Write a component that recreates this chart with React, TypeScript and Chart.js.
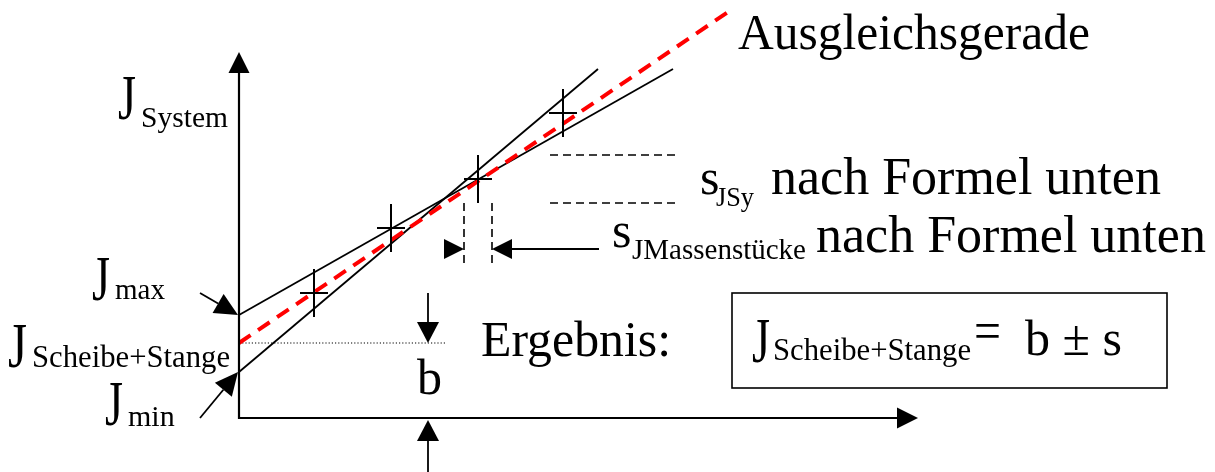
import { useEffect, useRef } from "react";
import { Chart, registerables } from "chart.js";

Chart.register(...registerables);

// Measured points: mass (x) against moment of inertia of the system (y), arbitrary units
const MASS = [7.5, 15.2, 23.9, 32.4];
const J_SYSTEM = [12.5, 19.0, 23.9, 30.5];
const MASS_ERR = [1.4, 1.4, 1.4, 1.4];
const J_ERR = [2.4, 2.4, 2.4, 2.4];

// Straight lines: best fit, flattest (J_max) and steepest (J_min)
const FIT_X = [0, 48.9];
const FIT_Y = [7.5, 40.6];
const MAX_X = [0, 43.4];
const MAX_Y = [10.3, 34.9];
const MIN_X = [0, 35.9];
const MIN_Y = [4.6, 34.9];

// Intercept b of the best-fit line
const B_VALUE = 7.5;
const B_LINE_END = 20.6;

// Axis extent (arrow tips)
const X_AXIS_END = 67.9;
const Y_AXIS_END = 36.6;

// Index of the point used to illustrate the uncertainties
const DETAIL_POINT = 2;

const FONT = '"Liberation Serif", "Times New Roman", serif';

type Label = { t: string; x: number; y: number; size: number; w?: number };

const LABELS: Label[] = [
  { t: "J", x: -12.1, y: 29.9, size: 64, w: 18 },
  { t: "System", x: -9.8, y: 29.1, size: 30, w: 87 },
  { t: "J", x: -14.7, y: 11.8, size: 64, w: 18 },
  { t: "max", x: -12.4, y: 11.9, size: 30, w: 50 },
  { t: "J", x: -23.1, y: 5.1, size: 64, w: 19 },
  { t: "Scheibe+Stange", x: -20.7, y: 5.1, size: 31, w: 198 },
  { t: "J", x: -13.4, y: -0.7, size: 64, w: 18 },
  { t: "min", x: -11.1, y: -0.8, size: 30, w: 47 },
  { t: "b", x: 17.8, y: 2.4, size: 50 },
  { t: "Ergebnis:", x: 24.2, y: 6.2, size: 50, w: 190 },
  { t: "J", x: 51.3, y: 5.6, size: 64, w: 18 },
  { t: "Scheibe+Stange", x: 53.4, y: 5.8, size: 31, w: 198 },
  { t: "=", x: 73.5, y: 6.9, size: 54, w: 27 },
  { t: "b ± s", x: 78.6, y: 6.3, size: 50, w: 97 },
  { t: "s", x: 46.1, y: 22.4, size: 50 },
  { t: "JSy", x: 47.7, y: 21.2, size: 28, w: 38 },
  { t: "nach Formel unten", x: 53.2, y: 22.4, size: 52, w: 392 },
  { t: "s", x: 37.3, y: 17.1, size: 50 },
  { t: "JMassenstücke", x: 39.3, y: 15.9, size: 29, w: 174 },
  { t: "nach Formel unten", x: 57.7, y: 16.6, size: 52, w: 392 },
  { t: "Ausgleichsgerade", x: 49.9, y: 36.9, size: 50, w: 352 },
];

// Result box corners
const BOX = { x0: 49.3, y0: 12.5, x1: 92.8, y1: 3.0 };

function arrow(
  ctx: CanvasRenderingContext2D,
  x0: number,
  y0: number,
  x1: number,
  y1: number,
  head = 20,
  half = 10
) {
  const dx = x1 - x0;
  const dy = y1 - y0;
  const len = Math.hypot(dx, dy);
  const ux = dx / len;
  const uy = dy / len;
  const bx = x1 - ux * head;
  const by = y1 - uy * head;
  if (len > head + 0.5) {
    ctx.beginPath();
    ctx.moveTo(x0, y0);
    ctx.lineTo(bx, by);
    ctx.stroke();
  }
  ctx.beginPath();
  ctx.moveTo(x1, y1);
  ctx.lineTo(bx - uy * half, by + ux * half);
  ctx.lineTo(bx + uy * half, by - ux * half);
  ctx.closePath();
  ctx.fill();
}

const diagramPlugin = {
  id: "diagram",
  afterDatasetsDraw(chart: Chart) {
    const ctx = chart.ctx;
    const sx = chart.scales.x;
    const sy = chart.scales.y;
    const X = (v: number) => sx.getPixelForValue(v);
    const Y = (v: number) => sy.getPixelForValue(v);

    ctx.save();
    ctx.strokeStyle = "#000";
    ctx.fillStyle = "#000";
    ctx.lineCap = "butt";

    // axes with arrow heads
    ctx.lineWidth = 2.2;
    arrow(ctx, X(0), Y(0) + 1, X(0), Y(Y_AXIS_END), 21, 10.5);
    arrow(ctx, X(0) - 1, Y(0), X(X_AXIS_END), Y(0), 21, 10.5);

    // error crosses
    ctx.lineWidth = 2;
    MASS.forEach((m, i) => {
      const j = J_SYSTEM[i];
      ctx.beginPath();
      ctx.moveTo(X(m), Y(j - J_ERR[i]));
      ctx.lineTo(X(m), Y(j + J_ERR[i]));
      ctx.moveTo(X(m - MASS_ERR[i]), Y(j));
      ctx.lineTo(X(m + MASS_ERR[i]), Y(j));
      ctx.stroke();
    });

    // uncertainty guides of the detail point
    const dm = MASS[DETAIL_POINT];
    const dj = J_SYSTEM[DETAIL_POINT];
    const de = MASS_ERR[DETAIL_POINT];
    const dje = J_ERR[DETAIL_POINT];
    ctx.setLineDash([8, 5]);
    ctx.lineWidth = 1.6;
    ctx.beginPath();
    ctx.moveTo(X(31.1), Y(dj + dje));
    ctx.lineTo(X(43.6), Y(dj + dje));
    ctx.moveTo(X(31.1), Y(dj - dje));
    ctx.lineTo(X(43.6), Y(dj - dje));
    ctx.moveTo(X(dm - de), Y(dj - dje));
    ctx.lineTo(X(dm - de), Y(15.5));
    ctx.moveTo(X(dm + de), Y(dj - dje));
    ctx.lineTo(X(dm + de), Y(15.5));
    ctx.stroke();
    ctx.setLineDash([]);

    // pointer arrows
    ctx.lineWidth = 1.8;
    arrow(ctx, X(dm - de - 2.0), Y(16.9), X(dm - de), Y(16.9), 20, 10);
    arrow(ctx, X(36.0), Y(16.9), X(dm + de), Y(16.9), 20, 10);
    arrow(ctx, X(-3.9), Y(12.5), X(-0.1), Y(MAX_Y[0]), 23, 11);
    arrow(ctx, X(-3.9), Y(0.0), X(-0.1), Y(MIN_Y[0]), 23, 11);
    arrow(ctx, X(18.9), Y(12.5), X(18.9), Y(B_VALUE), 21, 11);
    arrow(ctx, X(18.9), Y(-5.6), X(18.9), Y(-0.2), 21, 11);

    // result box
    ctx.lineWidth = 1.6;
    ctx.strokeRect(X(BOX.x0), Y(BOX.y0), X(BOX.x1) - X(BOX.x0), Y(BOX.y1) - Y(BOX.y0));

    // labels
    ctx.textAlign = "left";
    ctx.textBaseline = "alphabetic";
    LABELS.forEach((l) => {
      ctx.font = `${l.size}px ${FONT}`;
      if (l.w) ctx.fillText(l.t, X(l.x), Y(l.y), l.w);
      else ctx.fillText(l.t, X(l.x), Y(l.y));
    });

    ctx.restore();
  },
};

export default function App() {
  const ref = useRef<HTMLCanvasElement | null>(null);

  useEffect(() => {
    if (!ref.current) return;
    const pts = (xs: number[], ys: number[]) => xs.map((x, i) => ({ x, y: ys[i] }));
    const chart = new Chart(ref.current, {
      type: "line",
      data: {
        datasets: [
          {
            label: "Ausgleichsgerade",
            data: pts(FIT_X, FIT_Y),
            borderColor: "#ff0000",
            borderWidth: 4,
            borderDash: [14, 9],
            pointRadius: 0,
            order: 0,
          },
          {
            label: "J_max",
            data: pts(MAX_X, MAX_Y),
            borderColor: "#000",
            borderWidth: 1.8,
            pointRadius: 0,
            order: 1,
          },
          {
            label: "J_min",
            data: pts(MIN_X, MIN_Y),
            borderColor: "#000",
            borderWidth: 1.8,
            pointRadius: 0,
            order: 1,
          },
          {
            label: "b",
            data: pts([0, B_LINE_END], [B_VALUE, B_VALUE]),
            borderColor: "#000",
            borderWidth: 1.2,
            borderDash: [1.2, 2],
            pointRadius: 0,
            order: 2,
          },
          {
            label: "Messwerte",
            data: pts(MASS, J_SYSTEM),
            showLine: false,
            pointRadius: 0,
            order: 3,
          },
        ],
      },
      options: {
        animation: false,
        responsive: false,
        devicePixelRatio: 1,
        layout: { padding: 0, autoPadding: false },
        plugins: { legend: { display: false }, tooltip: { enabled: false } },
        elements: { line: { tension: 0 } },
        scales: {
          x: { type: "linear", min: -23.9, max: 97.6, display: false },
          y: { type: "linear", min: -5.4, max: 41.8, display: false },
        },
      },
      plugins: [diagramPlugin],
    });
    return () => chart.destroy();
  }, []);

  return (
    <div style={{ position: "fixed", left: 0, top: 0, width: 1215, height: 472, background: "#fff" }}>
      <canvas ref={ref} width={1215} height={472} style={{ width: 1215, height: 472, display: "block" }} />
    </div>
  );
}
